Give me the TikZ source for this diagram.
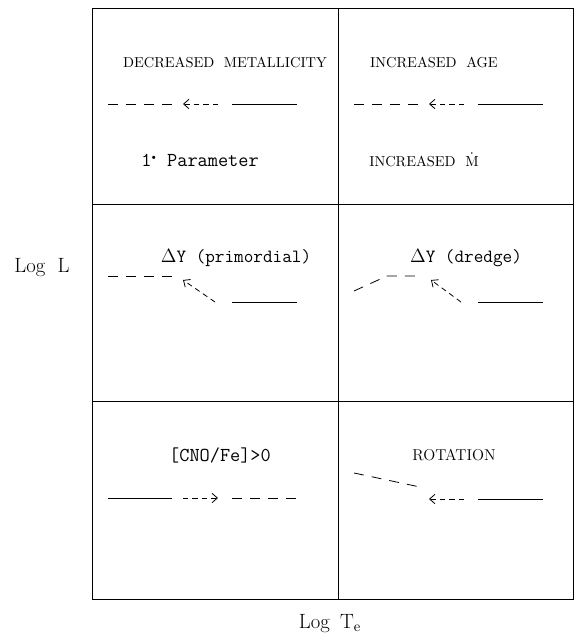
\documentclass[tikz,border=0pt]{standalone}
\usepackage{tikz}
\usetikzlibrary{arrows.meta}
\tikzset{
  longdash/.style={dash pattern=on 7.5pt off 6pt},
  trackarrow/.style={dash pattern=on 4pt off 3pt, -{Straight Barb[length=4pt,width=7pt]}},
  caplabel/.style={font=\fontsize{10.8}{13}\selectfont},
  ttlabel/.style={font=\fontsize{14}{16}\selectfont\ttfamily},
  axlabel/.style={font=\fontsize{15.5}{18}\selectfont}
}

\begin{document}
\begin{tikzpicture}[x=0.75pt, y=-0.75pt, line width=0.6pt]
\useasboundingbox (0,0) rectangle (574,636);
% frame and panels
\draw (92,8) rectangle (573,599);
\draw (338,8) -- (338,599);
\draw (92,204) -- (573,204);
\draw (92,401) -- (573,401);
\node[axlabel] (logl) at (42,268) {Log\hspace{0.6em}L};
\node[axlabel] (logte) at (330,624) {Log\hspace{0.5em}T$_{\mathrm e}$};
% metallicity
\node[caplabel] (decmet) at (225,62) {DECREASED\ \ METALLICITY};
\node[ttlabel, font=\fontsize{14.8}{17}\selectfont\ttfamily] (firstpar) at (200,160) {1\textsuperscript{\tiny$\bullet$} Parameter};
\draw[longdash] (108,104) -- (174,104);
\draw[trackarrow] (218,104) -- (183,104);
\draw (232,104) -- (297,104);
% age
\node[caplabel] (incage) at (434,62) {INCREASED\ \ AGE};
\node[caplabel] (incmdot) at (424,160) {INCREASED\ \ $\dot{\mathrm M}$};
\draw[longdash] (354,104) -- (420,104);
\draw[trackarrow] (464,104) -- (429,104);
\draw (478,104) -- (543,104);
% helium
\node[ttlabel] (dyprim) at (236,258) {$\Delta$Y (primordial)};
\draw[longdash] (108,276) -- (174,276);
\draw[trackarrow] (215,302) -- (183,280);
\draw (232,302) -- (297,302);
\node[ttlabel] (dydredge) at (466,258) {$\Delta$Y (dredge)};
\draw[longdash] (354,291) -- (387,276) -- (420,276);
\draw[trackarrow] (461,302) -- (431,280);
\draw (478,302) -- (543,302);
% cno and rotation
\node[ttlabel, font=\fontsize{14.8}{17}\selectfont\ttfamily] (cnofe) at (220,455) {[CNO/Fe]>0};
\draw (108,498) -- (172,498);
\draw[trackarrow] (183,498) -- (218,498);
\draw[longdash] (232,498) -- (298,498);
\node[caplabel, font=\fontsize{11.8}{14}\selectfont] (rot) at (454,455) {ROTATION};
\draw[longdash] (354,473) -- (420,487);
\draw[trackarrow] (464,499) -- (429,499);
\draw (478,499) -- (543,499);
\end{tikzpicture}
\end{document}
